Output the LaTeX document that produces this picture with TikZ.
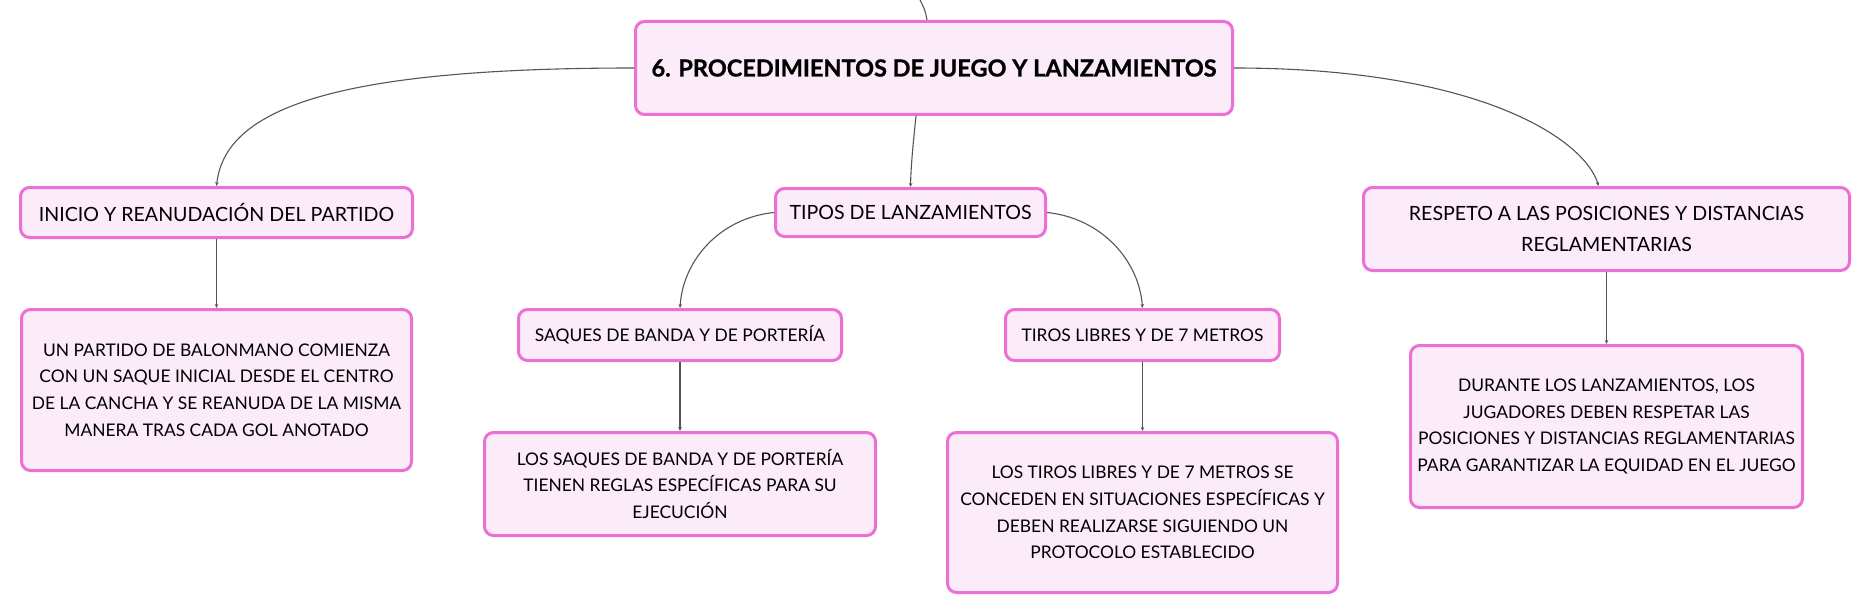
\documentclass[tikz,border=0pt]{standalone}
\usepackage{fontspec}
\setmainfont{Lato}
\newfontfamily\titlefont{Lato}[BoldFeatures={FakeBold=0.9}]
\usetikzlibrary{arrows.meta,calc}
\definecolor{boxborder}{HTML}{EC6FD6}
\definecolor{boxfill}{HTML}{FCEBF8}
\definecolor{linkcol}{HTML}{555555}
\tikzset{
  mbox/.style={draw=boxborder, fill=boxfill, line width=3pt, rounded corners=9pt,
    align=center, inner sep=0pt, text=black},
  labelbox/.style={mbox, font=\fontsize{19.6}{31}\selectfont},
  sublabelbox/.style={mbox, font=\fontsize{17.4}{26.7}\selectfont},
  textbox/.style={mbox, font=\fontsize{17.4}{26.7}\selectfont},
  link/.style={draw=linkcol, line width=1.1pt, -{Stealth[length=4pt,width=3.5pt]}},
  plainlink/.style={draw=linkcol, line width=1.1pt}
}
\begin{document}
\begin{tikzpicture}[x=1pt,y=-1pt]
\useasboundingbox (0,0) rectangle (1868,615);
\fill[white] (0,0) rectangle (1868,615);

\node[mbox, minimum width=597pt, minimum height=93pt,
  font=\fontsize{23.5}{28}\selectfont\titlefont\bfseries] (root) at (934,68)
  {6. PROCEDIMIENTOS DE JUEGO Y LANZAMIENTOS};

\node[labelbox, minimum width=392pt, minimum height=50pt] (inicio) at (216.5,212.5)
  {INICIO Y REANUDACIÓN DEL PARTIDO};
\node[textbox, minimum width=390pt, minimum height=161pt] (inicioC) at (216.5,390)
  {UN PARTIDO DE BALONMANO COMIENZA\\CON UN SAQUE INICIAL DESDE EL CENTRO\\DE LA CANCHA Y SE REANUDA DE LA MISMA\\MANERA TRAS CADA GOL ANOTADO};

\node[labelbox, minimum width=270pt, minimum height=48pt] (tipos) at (910.5,212.5)
  {TIPOS DE LANZAMIENTOS};
\node[sublabelbox, minimum width=323pt, minimum height=51pt] (saques) at (680,335)
  {SAQUES DE BANDA Y DE PORTERÍA};
\node[textbox, minimum width=391pt, minimum height=103pt] (saquesC) at (680,484)
  {LOS SAQUES DE BANDA Y DE PORTERÍA\\TIENEN REGLAS ESPECÍFICAS PARA SU\\EJECUCIÓN};
\node[sublabelbox, minimum width=274pt, minimum height=51pt] (tiros) at (1142.5,335)
  {TIROS LIBRES Y DE 7 METROS};
\node[textbox, minimum width=390pt, minimum height=160pt] (tirosC) at (1142.5,512.5)
  {LOS TIROS LIBRES Y DE 7 METROS SE\\CONCEDEN EN SITUACIONES ESPECÍFICAS Y\\DEBEN REALIZARSE SIGUIENDO UN\\PROTOCOLO ESTABLECIDO};

\node[labelbox, minimum width=486pt, minimum height=83pt] (respeto) at (1606.5,229)
  {RESPETO A LAS POSICIONES Y DISTANCIAS\\REGLAMENTARIAS};
\node[textbox, minimum width=392pt, minimum height=162pt] (respetoC) at (1606.5,426.5)
  {DURANTE LOS LANZAMIENTOS, LOS\\JUGADORES DEBEN RESPETAR LAS\\POSICIONES Y DISTANCIAS REGLAMENTARIAS\\PARA GARANTIZAR LA EQUIDAD EN EL JUEGO};

\coordinate (topend) at (920,0);

% connectors
\draw[plainlink] ($(root.north)+(-7,0)$) .. controls (925,10) .. (topend);
\draw[link] (root.west) .. controls (330,68) and (225,110) .. (inicio.north);
\draw[link] (root.east) .. controls (1480,68) and (1585,140) .. ($(respeto.north)+(-8,0)$);
\draw[link] ($(root.south)+(-18,0)$) .. controls (913,145) and (911,165) .. (tipos.north);
\draw[link] (tipos.west) .. controls (720,218) and (683,260) .. (saques.north);
\draw[link] (tipos.east) .. controls (1101,218) and (1139,260) .. (tiros.north);
\draw[link] (inicio.south) -- (inicioC.north);
\draw[link] (saques.south) -- (saquesC.north);
\draw[link] (tiros.south) -- (tirosC.north);
\draw[link] (respeto.south) -- (respetoC.north);
\end{tikzpicture}
\end{document}
